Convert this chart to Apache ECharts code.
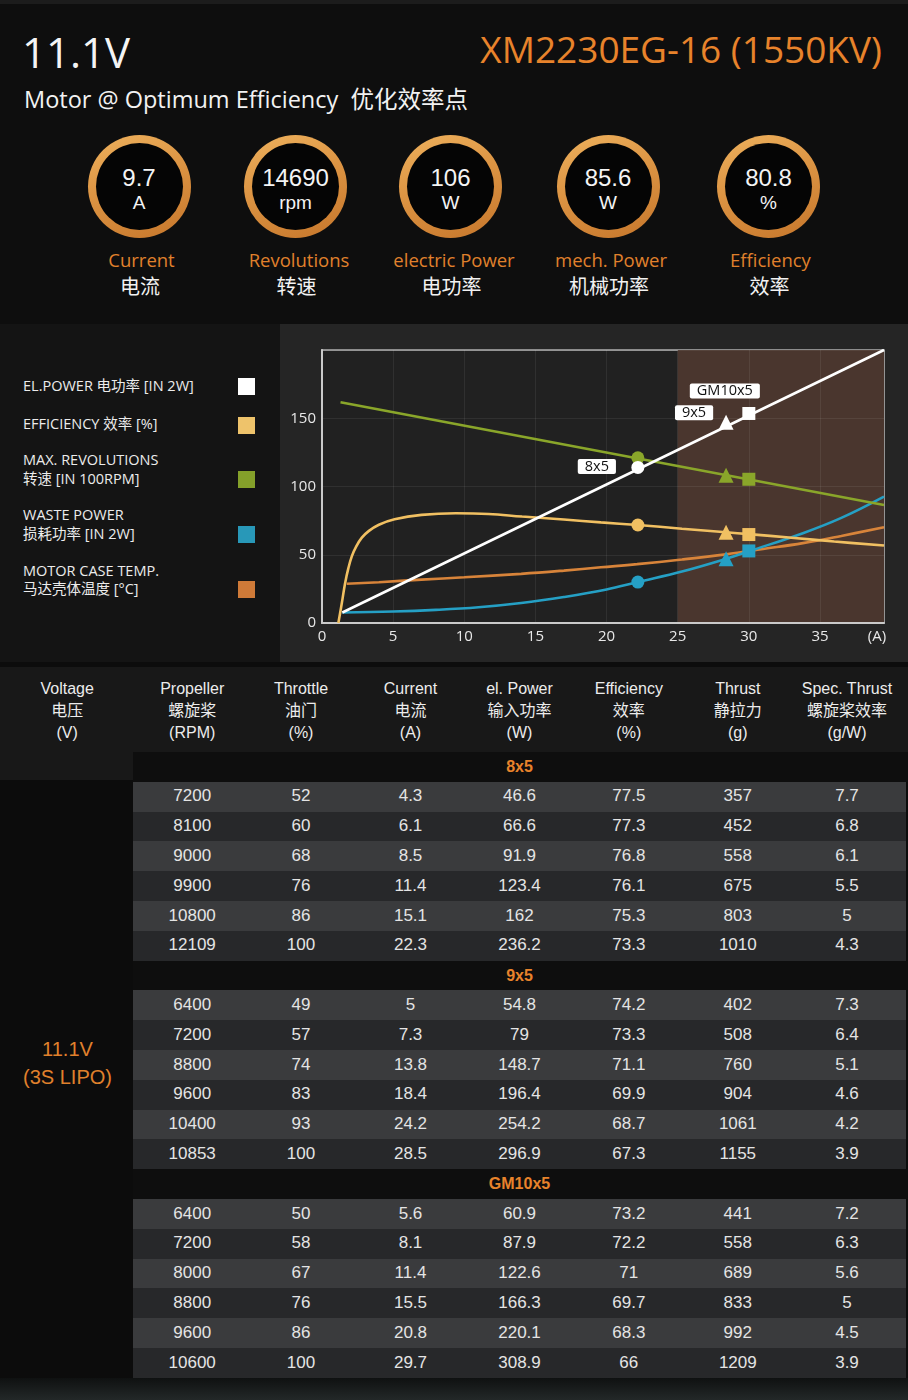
<!DOCTYPE html>
<html><head><meta charset="utf-8">
<script src="https://cdn.jsdelivr.net/npm/echarts@6/dist/echarts.min.js"></script>
<style>
html,body{margin:0;padding:0;overflow:hidden;background:#0c0c0c;}
#page{position:relative;width:908px;height:1400px;background:#0c0c0c;font-family:'Open Sans','Noto Sans CJK SC',sans-serif;color:#f2f2f2;overflow:hidden;}
.abs{position:absolute;white-space:pre;}
.ring{position:absolute;width:103px;height:103px;border-radius:50%;background:linear-gradient(160deg,#eeb25e 0%,#dc9443 45%,#c6762b 100%);}
.ring .in{position:absolute;left:8px;top:8px;width:87px;height:87px;border-radius:50%;background:#050505;}
.tbl{font-family:'Liberation Sans',Arial,'Noto Sans CJK SC',sans-serif;}
</style></head>
<body><div id="page">
<div class="abs" style="left:0;top:0;width:908px;height:4px;background:#1c1c1c"></div>
<div class="abs" style="left:0;top:4px;width:908px;height:320px;background:#0e0e0e"></div>
<div class="abs" style="left:0;top:324px;width:280px;height:338px;background:#141414"></div>
<div class="abs" style="left:280px;top:324px;width:628px;height:338px;background:#252525"></div>
<div id="chart" class="abs" style="left:280px;top:324px;width:628px;height:338px"></div>
</div>
<script>
// ---------- data ----------
const titleVoltage = '11.1V';
const titleMotor = 'XM2230EG-16 (1550KV)';
const subTitle = 'Motor @ Optimum Efficiency  优化效率点';

const statValues = ['9.7', '14690', '106', '85.6', '80.8'];
const statUnits = ['A', 'rpm', 'W', 'W', '%'];
const statLabelsEn = ['Current', 'Revolutions', 'electric Power', 'mech. Power', 'Efficiency'];
const statLabelsCn = ['电流', '转速', '电功率', '机械功率', '效率'];

const legendNames = [
  ['EL.POWER 电功率 [IN 2W]'],
  ['EFFICIENCY 效率 [%]'],
  ['MAX. REVOLUTIONS', '转速 [IN 100RPM]'],
  ['WASTE POWER', '损耗功率 [IN 2W]'],
  ['MOTOR CASE TEMP.', '马达壳体温度 [°C]']
];

// curves (x = current A, y = chart units)
const elPower = [[1.43, 7.7], [39.5, 200]];
const efficiency = [[1.15, 0], [1.4, 15], [1.62, 29], [1.85, 40], [2.1, 49], [2.4, 56], [2.8, 62.5], [3.3, 67.5], [4, 72], [5.1, 76], [7, 79.2], [9.4, 80.4], [11.7, 79.9], [14.06, 78], [17, 75.8], [19.6, 73.7], [22.2, 71.8], [25.3, 69.1], [28.4, 66.5], [30, 65.1], [33, 62.5], [36, 59.7], [39.5, 56.8]];
const revolutions = [[1.3, 161.7], [39.5, 86.5]];
const wastePower = [[1.43, 7.7], [5, 8.4], [8, 9.6], [11, 11.5], [14, 14.6], [17, 19], [20, 24.5], [22.15, 29.9], [25.3, 37.7], [28.4, 47], [30, 52.5], [33.8, 65.8], [36.5, 77], [39.5, 92.6]];
const caseTemp = [[1.74, 28.7], [4, 29.9], [7, 31.8], [10, 33.5], [14, 36], [17, 38.4], [19.6, 40.8], [22.15, 43.1], [25.3, 46.5], [28.4, 50.3], [31, 54.2], [33.8, 58.5], [36.5, 63.8], [39.5, 70.2]];

// operating points of the three propellers
const propNames = ['8x5', '9x5', 'GM10x5'];
const markerCurrent = [22.2, 28.4, 30.0];
const markerElPower = [114, 147, 153.5];
const markerEff = [71.8, 66.5, 64.8];
const markerRev = [121, 108.3, 105.3];
const markerWaste = [30, 47, 52.8];

const xTickLabels = ['0', '5', '10', '15', '20', '25', '30', '35', '(A)'];
const yTickLabels = ['0', '50', '100', '150'];

// table
const tableHeaders = [
  ['Voltage', '电压', '(V)'], ['Propeller', '螺旋桨', '(RPM)'], ['Throttle', '油门', '(%)'],
  ['Current', '电流', '(A)'], ['el. Power', '输入功率', '(W)'], ['Efficiency', '效率', '(%)'],
  ['Thrust', '静拉力', '(g)'], ['Spec. Thrust', '螺旋桨效率', '(g/W)']
];
const voltageLabel = ['11.1V', '(3S LIPO)'];
const rows8x5 = [
  [7200, 52, 4.3, 46.6, 77.5, 357, 7.7],
  [8100, 60, 6.1, 66.6, 77.3, 452, 6.8],
  [9000, 68, 8.5, 91.9, 76.8, 558, 6.1],
  [9900, 76, 11.4, 123.4, 76.1, 675, 5.5],
  [10800, 86, 15.1, 162, 75.3, 803, 5],
  [12109, 100, 22.3, 236.2, 73.3, 1010, 4.3]
];
const rows9x5 = [
  [6400, 49, 5, 54.8, 74.2, 402, 7.3],
  [7200, 57, 7.3, 79, 73.3, 508, 6.4],
  [8800, 74, 13.8, 148.7, 71.1, 760, 5.1],
  [9600, 83, 18.4, 196.4, 69.9, 904, 4.6],
  [10400, 93, 24.2, 254.2, 68.7, 1061, 4.2],
  [10853, 100, 28.5, 296.9, 67.3, 1155, 3.9]
];
const rowsGM10x5 = [
  [6400, 50, 5.6, 60.9, 73.2, 441, 7.2],
  [7200, 58, 8.1, 87.9, 72.2, 558, 6.3],
  [8000, 67, 11.4, 122.6, 71, 689, 5.6],
  [8800, 76, 15.5, 166.3, 69.7, 833, 5],
  [9600, 86, 20.8, 220.1, 68.3, 992, 4.5],
  [10600, 100, 29.7, 308.9, 66, 1209, 3.9]
];

// ---------- layout / style ----------
const ORANGE = '#e8832b';
const page = document.getElementById('page');
function addText(txt, css) {
  const d = document.createElement('div');
  d.className = 'abs';
  d.textContent = txt;
  d.style.cssText += css;
  page.appendChild(d);
  return d;
}
function centered(txt, cx, cy, size, color, extra, lhf) {
  const lh = Math.round(size * (lhf || 1.1) * 10) / 10;
  return addText(txt, `left:${cx - 150}px;width:300px;text-align:center;top:${cy - lh / 2}px;line-height:${lh}px;height:${lh}px;font-size:${size}px;color:${color};${extra || ''}`);
}

// header
addText(titleVoltage, 'left:22px;top:25px;line-height:54px;font-size:42px;color:#f4f4f4;');
addText(titleMotor, `right:26px;top:24px;line-height:50px;font-size:37px;color:${ORANGE};`);
addText(subTitle, 'left:24px;top:84px;line-height:30px;font-size:23.5px;color:#f2f2f2;');

const ringCx = [139, 295.5, 450.5, 608, 768.5];
const labelCx = [141.5, 299, 454, 611, 770.5];
const circleFont = "font-family:'Liberation Sans',Arial,sans-serif;";
statValues.forEach((v, i) => {
  const r = document.createElement('div');
  r.className = 'ring';
  r.style.left = (ringCx[i] - 51.5) + 'px';
  r.style.top = (186 - 51.5) + 'px';
  r.innerHTML = '<div class="in"></div>';
  page.appendChild(r);
  centered(v, ringCx[i], 178, 24, '#f4f4f4', circleFont);
  centered(statUnits[i], ringCx[i], 203.5, 19, '#f4f4f4', circleFont);
  centered(statLabelsEn[i], labelCx[i], 260, 18.5, '#e0812c');
  centered(statLabelsCn[i], ringCx[i] + 1, 287, 20, '#f2f2f2');
});

// legend (left panel)
const legendColors = ['#ffffff', '#eec36b', '#84a02a', '#2898b8', '#cf7a38'];
const legendFirstLineY = [386.7, 424, 460.7, 515.7, 571];
const legendSwatchY = [386.7, 425.5, 479, 534, 589];
legendNames.forEach((lines, i) => {
  addText(lines.join('\n'), `left:23px;top:${legendFirstLineY[i] - 9.3}px;line-height:18.6px;font-size:14.5px;color:#ececec;`);
  const s = document.createElement('div');
  s.className = 'abs';
  s.style.cssText = `left:237.5px;top:${legendSwatchY[i] - 8.5}px;width:17px;height:17px;background:${legendColors[i]};`;
  page.appendChild(s);
});

// table
const colCx = [67.2, 192.2, 301, 410.5, 519.5, 628.8, 737.8, 847];
const bg = (css) => { const d = document.createElement('div'); d.className = 'abs'; d.style.cssText = css; page.appendChild(d); };
bg('left:0;top:667px;width:908px;height:85px;background:#181818;');
bg('left:0;top:752px;width:133px;height:28px;background:#181818;');
tableHeaders.forEach((h, i) => {
  h.forEach((t, j) => {
    centered(t, colCx[i], 688.5 + j * 22.2, 16, '#ececec').classList.add('tbl');
  });
});
const ROW_H = 29.8;
const groups = [rows8x5, rows9x5, rowsGM10x5];
let y = 752;
groups.forEach((rows, g) => {
  bg(`left:133px;top:${y}px;width:775px;height:${ROW_H}px;background:#0e0e0e;`);
  centered(propNames[g], 519.5, y + ROW_H / 2, 16, ORANGE, 'font-weight:bold;').classList.add('tbl');
  y += ROW_H;
  rows.forEach((r, k) => {
    bg(`left:133px;top:${y}px;width:773px;height:${ROW_H + 0.5}px;background:${k % 2 === 0 ? '#3a3b3d' : '#27282a'};`);
    r.forEach((v, c) => {
      centered(String(v), colCx[c + 1], y + ROW_H / 2, 17, '#e4e4e4').classList.add('tbl');
    });
    y += ROW_H;
  });
});
centered(voltageLabel[0], 67.5, 1049, 20, '#e0812c').classList.add('tbl');
centered(voltageLabel[1], 67.5, 1077, 20, '#e0812c').classList.add('tbl');
bg(`left:0;top:${y}px;width:908px;height:${1400 - y}px;background:linear-gradient(#0f1111,#232828);`);

// ---------- chart ----------
const chart = echarts.init(document.getElementById('chart'), null, { renderer: 'canvas' });
const symbols = ['circle', 'triangle', 'rect'];
const symSizes = [13, 15, 13];
function markerData(ys) {
  return ys.map((yv, i) => ({ value: [markerCurrent[i], yv], symbol: symbols[i], symbolSize: symSizes[i] }));
}
const labelOffsets = [[-41, -1], [-32, -9.5], [-24, -22.5]];
const whiteMarkers = markerData(markerElPower).map((d, i) => Object.assign(d, {
  label: {
    show: true, position: 'inside', offset: labelOffsets[i], formatter: propNames[i],
    backgroundColor: '#ffffff', color: '#111', fontSize: 14.5, fontFamily: 'Open Sans',
    padding: [0, 7], lineHeight: 15, borderRadius: 2
  }
}));
const xLabelValues = [0, 5, 10, 15, 20, 25, 30, 35, 39];
const lineSeries = (name, data, color, z, smooth) => ({
  name, type: 'line', data, showSymbol: false, symbol: 'none', z,
  smooth: smooth,
  lineStyle: { color, width: 2.6 }, silent: true
});
const scatter = (data, color, z) => ({
  type: 'scatter', data, itemStyle: { color, opacity: 1 }, z, silent: true
});
chart.setOption({
  animation: false,
  backgroundColor: 'transparent',
  textStyle: { fontFamily: 'Open Sans' },
  grid: { left: 42, top: 26, width: 562, height: 273, show: true, backgroundColor: '#212121', borderColor: '#b0b0b0', borderWidth: 1.5 },
  xAxis: {
    type: 'value', min: 0, max: 39.5, interval: 5, z: 2,
    axisLine: { show: true, onZero: false, lineStyle: { color: '#cacaca', width: 2 } },
    axisTick: { show: false },
    splitLine: { show: true, lineStyle: { color: 'rgba(255,255,255,0.07)', width: 1 } },
    axisLabel: {
      color: '#e8e8e8', fontSize: 15, margin: 6, customValues: xLabelValues,
      formatter: (v) => xTickLabels[xLabelValues.indexOf(v)] ?? String(v)
    }
  },
  yAxis: {
    type: 'value', min: 0, max: 200, interval: 50, z: 2,
    axisLine: { show: true, lineStyle: { color: '#cacaca', width: 2 } },
    axisTick: { show: false },
    splitLine: { show: true, lineStyle: { color: 'rgba(255,255,255,0.07)', width: 1 } },
    axisLabel: {
      color: '#e8e8e8', fontSize: 15, margin: 6, showMaxLabel: false,
      formatter: (v) => yTickLabels[v / 50] ?? ''
    }
  },
  series: [
    {
      type: 'line', data: [], z: 1, silent: true,
      markArea: { silent: true, itemStyle: { color: '#4a362e' }, data: [[{ xAxis: 25 }, { xAxis: 39.5 }]] }
    },
    lineSeries('MOTOR CASE TEMP.', caseTemp, '#d8843a', 3, 0.4),
    lineSeries('WASTE POWER', wastePower, '#25a0c5', 3, 0.4),
    lineSeries('EFFICIENCY', efficiency, '#f1c062', 3, 0.4),
    lineSeries('MAX. REVOLUTIONS', revolutions, '#8aa62a', 3, false),
    lineSeries('EL.POWER', elPower, '#ffffff', 4, false),
    scatter(markerData(markerWaste), '#25a0c5', 5),
    scatter(markerData(markerEff), '#f1c062', 5),
    scatter(markerData(markerRev), '#8aa62a', 5),
    scatter(whiteMarkers, '#ffffff', 6)
  ]
});
</script>
</body></html>
